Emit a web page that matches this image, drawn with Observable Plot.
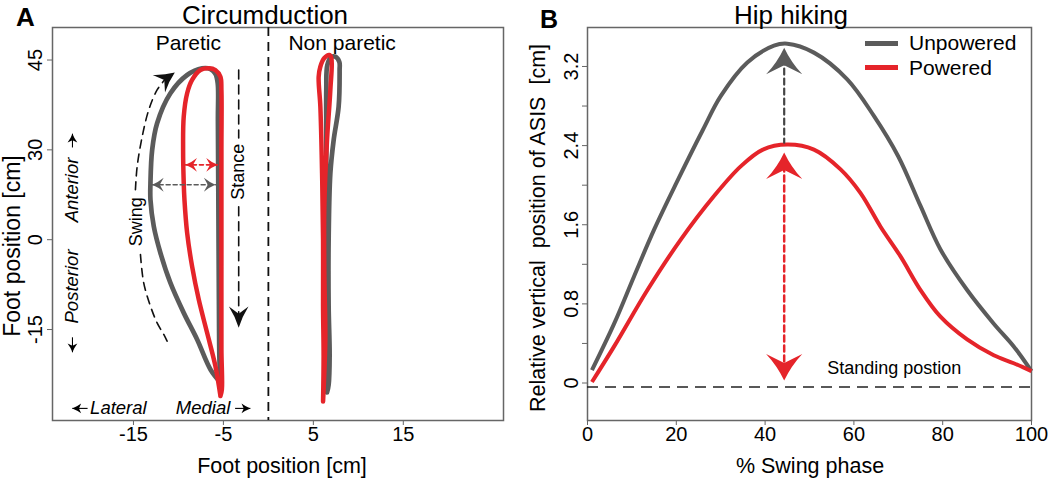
<!DOCTYPE html>
<html>
<head>
<meta charset="utf-8">
<script src="https://cdn.jsdelivr.net/npm/d3@7"></script>
<script src="https://cdn.jsdelivr.net/npm/@observablehq/plot@0.6"></script>
<style>
  html, body { margin: 0; padding: 0; background: #fff; }
  #wrap { position: relative; width: 1050px; height: 478px; overflow: hidden; font-family: "Liberation Sans", Arial, sans-serif; color: #000; }
  .panel { position: absolute; top: 0; }
  .lbl { position: absolute; white-space: nowrap; line-height: 1.15; }
  svg [aria-label$="tick"] path, svg .tick line { stroke: #666; }
  svg [aria-label$="tick label"], svg .tick text { fill: #000; }
</style>
</head>
<body>
<div id="wrap">
  <div id="pa" class="panel" style="left:0"></div>
  <div id="pb" class="panel" style="left:520px"></div>
</div>
<script>
// ---------- colours ----------
const gray = "#5b5b5b";
const red = "#e5242a";

// ---------- Panel A : circumduction (foot position, cm) ----------
const xTicksA = [-15, -5, 5, 15];
// the printed y labels are not evenly spaced in value; positions are the tick slots
const yTickSlotsA = [45, 30, 15, 0];
const yTickLabelsA = ["45", "30", "0", "-15"];

// Paretic side, unpowered (gray)
const parUnpX = [-5.33, -6.44, -7.92, -9.41, -10.89, -12.0, -12.74, -13.11, -13.11, -12.92, -12.37, -10.89, -9.03, -7.37, -6.44, -5.89, -5.63, -5.61, -5.56, -5.5, -5.44, -5.33];
const parUnpY = [-8.83, -6.67, -1.67, 2.78, 7.78, 12.78, 17.22, 21.67, 24.45, 30, 34.45, 39.45, 42.5, 43.62, 43.5, 42.7, 41.1, 35, 21.67, 5, -5, -8.83];
// Paretic side, powered (red)
const parPowX = [-5.33, -5.89, -6.81, -7.74, -8.48, -9.03, -9.33, -9.41, -9.48, -9.41, -9.03, -8.48, -7.56, -6.63, -5.89, -5.33, -5.22, -5.22, -5.22, -5.22, -5.17, -5.33];
const parPowY = [-11.1, -6.1, -0.55, 5, 10.55, 16.1, 21.67, 24.45, 30, 35.55, 39.45, 41.67, 43.33, 43.62, 43.33, 42.2, 40, 30, 13.33, -3.33, -10, -11.1];
// Non-paretic side, unpowered (gray)
const nonUnpX = [6.52, 6.44, 6.44, 6.44, 6.44, 6.56, 7.0, 7.44, 7.89, 7.92, 7.81, 7.26, 6.89, 6.7, 6.7, 6.81, 6.7, 6.52];
const nonUnpY = [-10.5, -1.67, 15, 31.67, 40, 44.2, 45.5, 45.55, 44.67, 43.33, 37.2, 31.67, 26.1, 15, 3.9, -4.45, -9.2, -10.5];
// Non-paretic side, powered (red)
const nonPowX = [6.08, 6.14, 6.08, 6.08, 5.97, 5.78, 5.59, 5.78, 6.22, 6.78, 7.0, 6.89, 6.52, 6.22, 6.22, 6.33, 6.14, 6.08];
const nonPowY = [-12, -4.45, 3.9, 15, 26.1, 37.2, 42.2, 43.9, 45.33, 45.83, 45.33, 40, 31.67, 20.55, 9.5, -1.67, -10, -12];

// Annotation geometry (data units)
const swingUpperX = [-14.78, -14.59, -14.03, -13.3, -12.37, -11.4];
const swingUpperY = [23.33, 27.2, 32.2, 36.67, 40, 41.9];
const swingLowerX = [-14.22, -13.86, -13.11, -12.37, -11.63, -11.26];
const swingLowerY = [12.5, 7.78, 3.9, 1.12, -0.83, -1.95];
const swingHead = [{x: -10.4, y: 42.9}];
const stanceX = -3.3;
const stanceUpperY = [43.33, 32];
const stanceLowerY = [20.5, 2.0];
const stanceHead = [{x: -3.3, y: 0.3}];
const redSpanX = [-9.22, -5.63], redSpanY = 27.5;
const graySpanX = [-12.92, -5.89], graySpanY = 24.17;

const textsA = [
  {x: -8.9, y: 47.85, text: "Paretic"},
  {x: 8.2, y: 47.85, text: "Non paretic"}
];
const rotTextsA = [
  {x: -14.67, y: 18.0, text: "Swing"},
  {x: -3.3, y: 26.33, text: "Stance"}
];
const italicRotA = [
  {x: -21.78, y: 23.3, text: "Anterior"},
  {x: -21.78, y: 7.19, text: "Posterior"}
];
const italicLeftA = [{x: -19.82, y: -13.17, text: "Lateral"}];
const italicRightA = [{x: -4.23, y: -13.17, text: "Medial"}];
// direction arrows: [x1, y1] -> [x2, y2] tip, heading in degrees (0 = up, clockwise)
const dirArrows = [
  {x1: -20.1, y1: -13.17, x2: -21.8, y2: -13.17, heading: 270}, // lateral
  {x1: -3.7, y1: -13.17, x2: -2.0, y2: -13.17, heading: 90},    // medial
  {x1: -21.78, y1: 30.4, x2: -21.78, y2: 32.7, heading: 0},     // anterior
  {x1: -21.78, y1: -1.3, x2: -21.78, y2: -3.8, heading: 180}    // posterior
];

// ---------- Panel B : hip hiking ----------
const xTicksB = [0, 20, 40, 60, 80, 100];
const yTicksB = [0, 0.4, 0.8, 1.2, 1.6, 2.0, 2.4, 2.8, 3.2];
const yTickLabelsB = ["0", "", "0.8", "", "1.6", "", "2.4", "", "3.2"];

const swingPct_unp = [1, 6, 10.5, 15, 20, 26, 30, 36, 42, 45, 51, 58.5, 64.5, 70, 75, 79.5, 85.5, 91.5, 96, 100];
const asis_unp = [0.13, 0.60, 1.08, 1.55, 2.02, 2.56, 2.90, 3.24, 3.41, 3.43, 3.34, 3.07, 2.70, 2.29, 1.79, 1.35, 0.94, 0.60, 0.37, 0.12];
const swingPct_pow = [1, 6, 13.5, 21, 28.5, 34.5, 39.5, 45, 51, 57, 61.5, 66, 70.5, 75, 79.5, 85.5, 91.5, 96, 100];
const asis_pow = [0.01, 0.37, 0.94, 1.45, 1.89, 2.19, 2.36, 2.41, 2.36, 2.16, 1.92, 1.58, 1.28, 0.94, 0.67, 0.44, 0.28, 0.20, 0.12];

const standingLevel = -0.04;
const peakX = 44.3;
const grayArrowY = [3.28, 2.43];
const grayArrowTip = 3.39;
const redArrowY = [2.2, 0.14];
const redArrowTopTip = 2.33;
const redArrowBottomTip = 0.025;
const standingText = [{x: 54.0, y: 0.15, text: "Standing postion"}];

const legendItems = ["Unpowered", "Powered"];
const legendColors = [gray, red];

// ---------- helpers ----------
const pts = (xs, ys) => xs.map((x, i) => ({x, y: ys[i]}));
function arrowHead(angleDeg, widthRatio = 0.68, notch = 0.66) {
  const a = angleDeg * Math.PI / 180, c = Math.cos(a), s = Math.sin(a);
  const rot = (x, y) => [x * c - y * s, x * s + y * c];
  return {
    draw(ctx, size) {
      const L = Math.sqrt(size);
      const W = L * widthRatio;
      ctx.moveTo(...rot(0, 0));
      ctx.quadraticCurveTo(...rot(-W * 0.38, L * 0.55), ...rot(-W, L));
      ctx.lineTo(...rot(0, L * notch));
      ctx.lineTo(...rot(W, L));
      ctx.quadraticCurveTo(...rot(W * 0.38, L * 0.55), ...rot(0, 0));
      ctx.closePath();
    }
  };
}
const FONT = "Liberation Sans, Arial, sans-serif";

const dirArrowMarks = dirArrows.flatMap(a => [
  Plot.link([a], {x1: "x1", y1: "y1", x2: "x2", y2: "y2", stroke: "#000", strokeWidth: 1.1}),
  Plot.dot([a], {x: "x2", y: "y2", r: 5, symbol: arrowHead(a.heading, 0.55, 0.75), fill: "#000", stroke: "none"})
]);

// ---------- Panel A plot ----------
const plotA = Plot.plot({
  width: 520, height: 478,
  marginLeft: 52, marginRight: 17, marginTop: 27, marginBottom: 58,
  style: {fontFamily: FONT, fontSize: "20px", color: "#000", background: "transparent"},
  x: {domain: [-24.0, 26.14], ticks: xTicksA, tickSize: 5, tickPadding: 1, tickFormat: d => String(d), label: null},
  y: {domain: [-15.19, 50.43], ticks: yTickSlotsA, tickSize: 5, tickPadding: 6, tickRotate: -90,
      tickFormat: d => yTickLabelsA[yTickSlotsA.indexOf(d)] ?? "", label: null},
  marks: [
    Plot.frame({stroke: "#666", strokeWidth: 1.5}),
    Plot.ruleX([0], {stroke: "#111", strokeWidth: 1.8, strokeDasharray: "9,6"}),
    // swing / stance guides
    Plot.line(pts(swingUpperX, swingUpperY), {x: "x", y: "y", curve: "catmull-rom", stroke: "#111", strokeWidth: 1.6, strokeDasharray: "8,6"}),
    Plot.line(pts(swingLowerX, swingLowerY), {x: "x", y: "y", curve: "catmull-rom", stroke: "#111", strokeWidth: 1.6, strokeDasharray: "8,6"}),
    Plot.dot(swingHead, {x: "x", y: "y", r: 11, symbol: arrowHead(55, 0.55), fill: "#111", stroke: "none"}),
    Plot.line(pts([stanceX, stanceX], stanceUpperY), {x: "x", y: "y", stroke: "#111", strokeWidth: 1.6, strokeDasharray: "9,6"}),
    Plot.line(pts([stanceX, stanceX], stanceLowerY), {x: "x", y: "y", stroke: "#111", strokeWidth: 1.6, strokeDasharray: "9,6"}),
    Plot.dot(stanceHead, {x: "x", y: "y", r: 12, symbol: arrowHead(180, 0.46), fill: "#111", stroke: "none"}),
    // curves
    Plot.line(pts(parUnpX, parUnpY), {x: "x", y: "y", curve: "catmull-rom", stroke: gray, strokeWidth: 4.7, strokeLinejoin: "round"}),
    Plot.line(pts(parPowX, parPowY), {x: "x", y: "y", curve: "catmull-rom", stroke: red, strokeWidth: 4.5, strokeLinejoin: "round"}),
    Plot.line(pts(nonUnpX, nonUnpY), {x: "x", y: "y", curve: "catmull-rom", stroke: gray, strokeWidth: 4.7, strokeLinejoin: "round"}),
    Plot.line(pts(nonPowX, nonPowY), {x: "x", y: "y", curve: "catmull-rom", stroke: red, strokeWidth: 4.5, strokeLinejoin: "round"}),
    // width double arrows
    Plot.line(pts(graySpanX, [graySpanY, graySpanY]), {x: "x", y: "y", stroke: gray, strokeWidth: 1.6, strokeDasharray: "4,3"}),
    Plot.dot([{x: graySpanX[0], y: graySpanY}], {x: "x", y: "y", r: 6.5, symbol: arrowHead(270, 0.6), fill: gray, stroke: "none"}),
    Plot.dot([{x: graySpanX[1], y: graySpanY}], {x: "x", y: "y", r: 6.5, symbol: arrowHead(90, 0.6), fill: gray, stroke: "none"}),
    Plot.line(pts(redSpanX, [redSpanY, redSpanY]), {x: "x", y: "y", stroke: red, strokeWidth: 1.6, strokeDasharray: "4,3"}),
    Plot.dot([{x: redSpanX[0], y: redSpanY}], {x: "x", y: "y", r: 6.5, symbol: arrowHead(270, 0.6), fill: red, stroke: "none"}),
    Plot.dot([{x: redSpanX[1], y: redSpanY}], {x: "x", y: "y", r: 6.5, symbol: arrowHead(90, 0.6), fill: red, stroke: "none"}),
    // texts
    Plot.text(textsA, {x: "x", y: "y", text: "text", fontSize: 21, fill: "#000"}),
    Plot.text(rotTextsA, {x: "x", y: "y", text: "text", rotate: -90, fontSize: 18, fill: "#000"}),
    Plot.text(italicRotA, {x: "x", y: "y", text: "text", rotate: -90, fontSize: 18.5, fontStyle: "italic", fill: "#000"}),
    Plot.text(italicLeftA, {x: "x", y: "y", text: "text", textAnchor: "start", fontSize: 18.5, fontStyle: "italic", fill: "#000"}),
    Plot.text(italicRightA, {x: "x", y: "y", text: "text", textAnchor: "end", fontSize: 18.5, fontStyle: "italic", fill: "#000"}),
    ...dirArrowMarks
  ]
});
document.getElementById("pa").appendChild(plotA);

// ---------- Panel B plot ----------
const plotB = Plot.plot({
  width: 530, height: 478,
  marginLeft: 67, marginRight: 19, marginTop: 27, marginBottom: 58,
  style: {fontFamily: FONT, fontSize: "20px", color: "#000", background: "transparent"},
  x: {domain: [0, 100], ticks: xTicksB, tickSize: 5, tickPadding: 1, tickFormat: d => String(d), label: null},
  y: {domain: [-0.379, 3.594], ticks: yTicksB, tickSize: 5, tickPadding: 5, tickRotate: -90,
      tickFormat: d => yTickLabelsB[yTicksB.findIndex(v => Math.abs(v - d) < 1e-9)] ?? "", label: null},
  marks: [
    Plot.frame({stroke: "#666", strokeWidth: 1.5}),
    Plot.ruleY([standingLevel], {stroke: "#222", strokeWidth: 1.5, strokeDasharray: "11,7"}),
    Plot.text(standingText, {x: "x", y: "y", text: "text", textAnchor: "start", fontSize: 18, fill: "#000"}),
    Plot.line(pts(swingPct_unp, asis_unp), {x: "x", y: "y", curve: "catmull-rom", stroke: gray, strokeWidth: 4, strokeLinecap: "butt"}),
    Plot.line(pts(swingPct_pow, asis_pow), {x: "x", y: "y", curve: "catmull-rom", stroke: red, strokeWidth: 4, strokeLinecap: "butt"}),
    Plot.line(pts([peakX, peakX], grayArrowY), {x: "x", y: "y", stroke: "#444", strokeWidth: 2.2, strokeDasharray: "6,4"}),
    Plot.dot([{x: peakX, y: grayArrowTip}], {x: "x", y: "y", r: 15, symbol: arrowHead(0), fill: gray, stroke: "none"}),
    Plot.line(pts([peakX, peakX], redArrowY), {x: "x", y: "y", stroke: red, strokeWidth: 2.5, strokeDasharray: "6,4"}),
    Plot.dot([{x: peakX, y: redArrowTopTip}], {x: "x", y: "y", r: 15, symbol: arrowHead(0), fill: red, stroke: "none"}),
    Plot.dot([{x: peakX, y: redArrowBottomTip}], {x: "x", y: "y", r: 15, symbol: arrowHead(180), fill: red, stroke: "none"})
  ]
});
document.getElementById("pb").appendChild(plotB);

// ---------- HTML titles / labels / legend ----------
const wrap = document.getElementById("wrap");
function label(text, cx, cy, size, opts = {}) {
  const d = document.createElement("div");
  d.className = "lbl";
  d.textContent = text;
  d.style.left = cx + "px";
  d.style.top = cy + "px";
  d.style.fontSize = size + "px";
  if (opts.bold) d.style.fontWeight = "bold";
  d.style.transform = "translate(-50%,-50%)" + (opts.rotate ? " rotate(-90deg)" : "");
  wrap.appendChild(d);
  return d;
}
label("A", 25.5, 18, 26, {bold: true});
label("B", 549, 19, 25, {bold: true});
label("Circumduction", 265, 15.5, 26);
label("Hip hiking", 791, 15.5, 26);
label("Foot position [cm]", 282, 466, 21.5);
label("% Swing phase", 810, 466, 21.5);
label("Foot position [cm]", 12, 246, 23, {rotate: true});
label("Relative vertical\u00a0\u00a0position of ASIS\u00a0\u00a0[cm]", 538, 228, 21.5, {rotate: true});

legendItems.forEach((name, i) => {
  const cy = 43 + i * 24.5;
  const sw = document.createElement("div");
  sw.style.cssText = `position:absolute;left:865px;top:${cy - 2.5}px;width:33px;height:5px;background:${legendColors[i]}`;
  wrap.appendChild(sw);
  const t = document.createElement("div");
  t.className = "lbl";
  t.textContent = name;
  t.style.cssText += `left:909px;top:${cy}px;font-size:21px;transform:translateY(-50%)`;
  wrap.appendChild(t);
});
</script>
</body>
</html>
